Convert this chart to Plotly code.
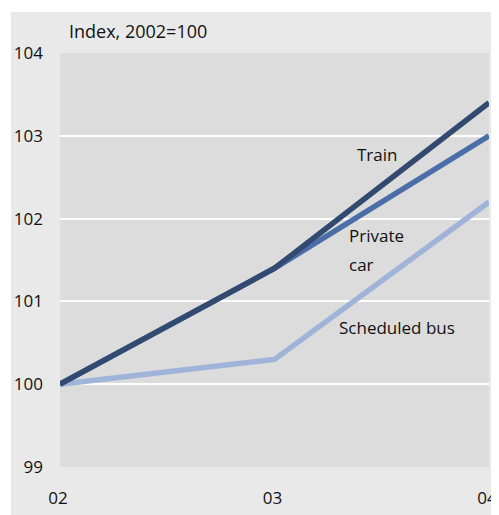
import plotly.graph_objects as go

years = ["02", "03", "04"]
x_pos = [0, 1, 2]
train = [100.0, 101.4, 103.4]
car = [100.0, 101.4, 103.0]
bus = [100.0, 100.3, 102.2]
y_ticks = [99, 100, 101, 102, 103, 104]

FONT = "Open Sans"
TXT = "#111111"
# page has an 8px body margin; figure is sized to fill the rest of the window
W, H = 491, 507
L, R, T, B = 52, 10, 45, 48
PW, PH = W - L - R, H - T - B

fig = go.Figure()
series = [("Scheduled bus", bus, "#a0b4da"), ("Private car", car, "#4b6ea9"), ("Train", train, "#334a70")]
for name, vals, col in series:
    fig.add_trace(go.Scatter(x=x_pos, y=vals, mode="lines", name=name,
                             line=dict(color=col, width=5.5), cliponaxis=False,
                             showlegend=False))

labels = [("Train", 1.478, 102.77, "center"), ("Private", 1.338, 101.80, "left"),
          ("car", 1.338, 101.44, "left"), ("Scheduled bus", 1.569, 100.68, "center")]
for txt, xx, yy, anc in labels:
    fig.add_annotation(x=xx, y=yy, text=txt, showarrow=False, xref="x", yref="y",
                       xanchor=anc, yanchor="middle",
                       font=dict(family=FONT, size=17, color=TXT))

fig.add_annotation(xref="paper", yref="paper", x=(59 - L) / PW, y=(H - B - 23) / PH,
                   xanchor="left", yanchor="middle", text="Index, 2002=100", showarrow=False,
                   font=dict(family=FONT, size=18, color=TXT))

# white outer border strips
fig.add_shape(type="rect", xref="paper", yref="paper",
              x0=(0 - L) / PW, x1=(3 - L) / PW,
              y0=(H - B - H) / PH, y1=(H - B) / PH,
              fillcolor="white", line=dict(width=0), layer="above")
fig.add_shape(type="rect", xref="paper", yref="paper",
              x0=(0 - L) / PW, x1=(W - L) / PW,
              y0=(H - B - 4) / PH, y1=(H - B) / PH,
              fillcolor="white", line=dict(width=0), layer="above")

fig.update_xaxes(range=[0, 2], tickvals=x_pos, ticktext=years, showgrid=False, zeroline=False,
                 showline=False, ticks="", ticklabelstandoff=19, automargin=False,
                 ticklabeloverflow="allow", ticklabelshift=-2,
                 tickfont=dict(family=FONT, size=17, color=TXT))
fig.update_yaxes(range=[99, 104], tickvals=y_ticks, showgrid=True, gridcolor="white", gridwidth=2,
                 zeroline=False, showline=False, ticks="", ticklabelstandoff=16, automargin=False,
                 tickfont=dict(family=FONT, size=17, color=TXT))

fig.update_layout(width=W, height=H, margin=dict(l=L, r=R, t=T, b=B),
                  paper_bgcolor="#e9e9e9", plot_bgcolor="#dcdcdc",
                  font=dict(family=FONT))
fig.write_html("out.html")
